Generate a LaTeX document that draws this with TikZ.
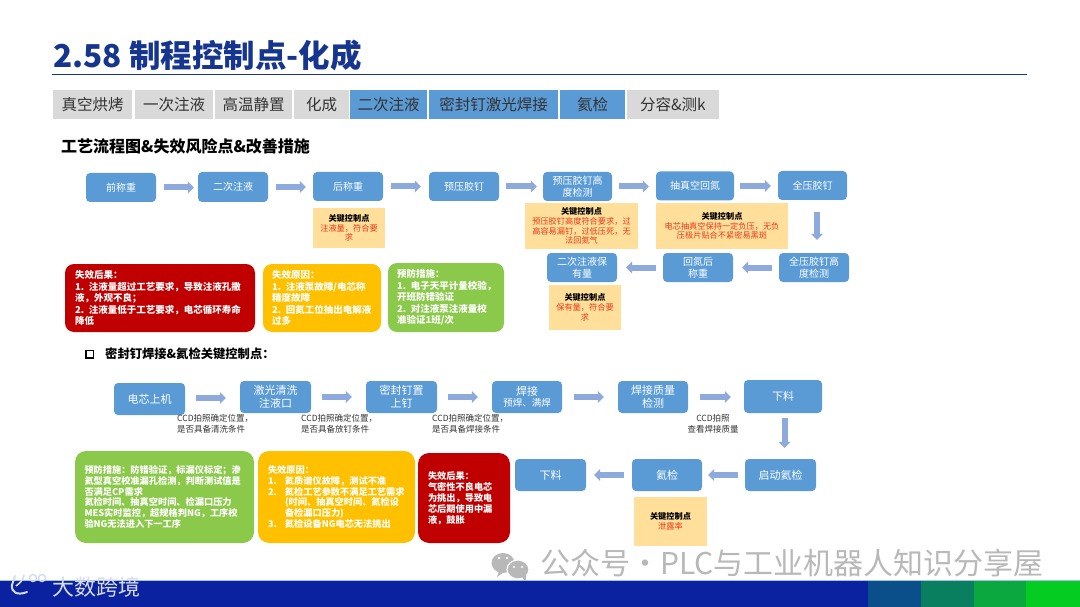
\documentclass[tikz,border=0pt]{standalone}
\usepackage{fontspec}
\setmainfont{Noto Sans CJK SC}
\usetikzlibrary{arrows.meta}
\definecolor{stepblue}{HTML}{5B9BD5}
\definecolor{tabgray}{HTML}{D9D9D9}
\definecolor{flowcol}{HTML}{8EA9DB}
\definecolor{keyfill}{HTML}{FFDF9A}
\definecolor{keyred}{HTML}{E8381A}
\definecolor{failred}{HTML}{C00000}
\definecolor{failorange}{HTML}{FFC000}
\definecolor{failgreen}{HTML}{8BC94A}
\definecolor{titleblue}{HTML}{16358F}
\definecolor{wmgray}{HTML}{B8B8B8}
\definecolor{bandA}{HTML}{0A22A0}
\definecolor{bandB}{HTML}{0B4F8A}
\definecolor{bandC}{HTML}{0A7F5F}
\definecolor{bandD}{HTML}{0AA83E}
\definecolor{bandE}{HTML}{05CC20}
\definecolor{logogray}{HTML}{D5DBE8}
\newcommand{\fsz}[2]{\fontsize{#1}{#2}\selectfont}
\newcommand{\numitem}[1]{\makebox[17pt][l]{#1}}
\newcommand{\zc}{\char"FF0C\relax}
\newcommand{\zk}{\char"FF1A\relax}
\newcommand{\zf}{\char"FF1B\relax}
\tikzset{
  stepbox/.style={fill=stepblue,rounded corners=4pt,text=white,align=center,inner sep=0pt,font=\fsz{10}{12}},
  stepboxb/.style={stepbox,font=\fsz{11}{12.7}},
  tabbox/.style={fill=tabgray,inner sep=0pt,minimum height=29pt,text=black!80,font=\fsz{15.5}{18}},
  tabon/.style={tabbox,fill=stepblue},
  keybox/.style={fill=keyfill,inner sep=0pt,align=center,font=\fsz{8.2}{9.7},text=keyred},
  failbox/.style={rounded corners=9pt,inner sep=0pt,text=white,align=left,font=\bfseries\fsz{9.5}{11.4}},
  failboxb/.style={failbox,rounded corners=11pt,font=\bfseries\fsz{9.2}{10.9}},
  flow/.style={draw=flowcol,line width=6pt,-{Triangle[length=6pt,width=12pt]}},
  ccd/.style={inner sep=0pt,align=left,font=\fsz{8.5}{10.5},text=black!80,anchor=north west},
}
\newcommand{\keyhead}{\textcolor{black}{\bfseries 关键控制点}\\}
\begin{document}
\begin{tikzpicture}[x=1pt,y=-1pt]
\useasboundingbox (0,0) rectangle (1080,607);
% title
\node[anchor=west,inner sep=0pt,text=titleblue,font=\bfseries\fsz{31.5}{34}] (title) at (53,55) {2.58 制程控制点-化成};
\coordinate (ruleL) at (52,75); \coordinate (ruleR) at (1027,75);
\draw[titleblue,line width=1pt] (ruleL) -- (ruleR);
% tabs
\node[tabbox,minimum width=79pt] (t1) at (92.5,104.5) {真空烘烤};
\node[tabbox,minimum width=78pt] (t2) at (174,104.5) {一次注液};
\node[tabbox,minimum width=77pt] (t3) at (253.5,104.5) {高温静置};
\node[tabbox,minimum width=55pt] (t4) at (321.5,104.5) {化成};
\node[tabon,minimum width=77pt] (t5) at (388.5,104.5) {二次注液};
\node[tabon,minimum width=129pt] (t6) at (493.5,104.5) {密封钉激光焊接};
\node[tabon,minimum width=65pt] (t7) at (592.5,104.5) {氦检};
\node[tabbox,minimum width=92pt] (t8) at (673,104.5) {分容\&测k};
\node[anchor=west,inner sep=0pt,font=\bfseries\fsz{16}{18}] (head1) at (61,146) {工艺流程图\&失效风险点\&改善措施};
% row 1
\node[stepbox,minimum width=70pt,minimum height=29pt] (a1) at (121,187.5) {前称重};
\node[stepbox,minimum width=70pt,minimum height=30pt] (a2) at (233,187) {二次注液};
\node[stepbox,minimum width=70pt,minimum height=29pt] (a3) at (348,186.5) {后称重};
\node[stepbox,minimum width=70pt,minimum height=29pt] (a4) at (464,186.5) {预压胶钉};
\node[stepbox,minimum width=69pt,minimum height=29pt] (a5) at (577.5,186.5) {预压胶钉高\\度检测};
\node[stepbox,minimum width=78pt,minimum height=29pt] (a6) at (695,186) {抽真空回氮};
\node[stepbox,minimum width=69pt,minimum height=29pt] (a7) at (812.5,185.5) {全压胶钉};
\node[stepbox,minimum width=70pt,minimum height=29pt] (a8) at (814,267.5) {全压胶钉高\\度检测};
\node[stepbox,minimum width=70pt,minimum height=29pt] (a9) at (698,267.5) {回氮后\\称重};
\node[stepbox,minimum width=70pt,minimum height=29pt] (a10) at (582,267.5) {二次注液保\\有量};
\draw[flow,shorten <=8pt,shorten >=4pt] (a1.east) -- (a1.east -| a2.west);
\draw[flow,shorten <=8pt,shorten >=7pt] (a2.east) -- (a2.east -| a3.west);
\draw[flow,shorten <=8pt,shorten >=8pt] (a3.east) -- (a3.east -| a4.west);
\draw[flow,shorten <=7pt,shorten >=6pt] (a4.east) -- (a4.east -| a5.west);
\draw[flow,shorten <=7pt,shorten >=7pt] (a5.east) -- (a5.east -| a6.west);
\draw[flow,shorten <=6pt,shorten >=7pt] (a6.east) -- (a6.east -| a7.west);
\draw[flow,shorten <=12pt,shorten >=13pt] (a7.south -| 817,0) -- (a8.north -| 817,0);
\draw[flow,shorten <=7pt,shorten >=9pt] (a8.west) -- (a8.west -| a9.east);
\draw[flow,shorten <=7pt,shorten >=9pt] (a9.west) -- (a9.west -| a10.east);
% key boxes row 1
\node[keybox,minimum width=72pt,minimum height=40pt] (k1) at (349,228) {\keyhead 注液量\zc 符合要\\求};
\node[keybox,minimum width=113pt,minimum height=46pt] (k2) at (581.5,226) {\keyhead 预压胶钉高度符合要求\zc 过\\高容易漏钉\zc 过低压死\zc 无\\法回氮气};
\node[keybox,minimum width=132pt,minimum height=46pt] (k3) at (722,226) {\keyhead 电芯抽真空保持一定负压\zc 无负\\压极片贴合不紧密易黑斑};
\node[keybox,minimum width=72pt,minimum height=45pt] (k4) at (585,307.5) {\keyhead 保有量\zc 符合要\\求};
% failure boxes row 1
\node[failbox,fill=failred,minimum width=190pt,minimum height=68pt,text width=170pt] (f1) at (160,298) {失效后果\zk\\1. 注液量超过工艺要求\zc 导致注液孔撒\\液\zc 外观不良\zf\\2. 注液量低于工艺要求\zc 电芯循环寿命\\降低};
\node[failbox,fill=failorange,minimum width=118pt,minimum height=68pt,text width=100pt] (f2) at (322,298) {失效原因\zk\\1. 注液泵故障/电芯称\\精度故障\\2. 回氦工位抽出电解液\\过多};
\node[failbox,fill=failgreen,minimum width=116pt,minimum height=69pt,text width=98pt] (f3) at (446,297.5) {预防措施\zk\\\mbox{1. 电子天平计量校验\zc}\\开班防错验证\\\mbox{2. 对注液泵注液量校}\\准验证1班/次};
% section 2 heading
\node[draw=black,line width=1.5pt,minimum size=7.5pt,inner sep=0pt] (chk) at (89.5,354) {};
\node[anchor=west,inner sep=0pt,font=\bfseries\fsz{12.3}{14}] (head2) at (105,354) {密封钉焊接\&氦检关键控制点\zk};
% row 3
\node[stepboxb,minimum width=71pt,minimum height=32pt] (b1) at (149.5,399) {电芯上机};
\node[stepboxb,minimum width=71pt,minimum height=32pt] (b2) at (275.5,397) {激光清洗\\注液口};
\node[stepboxb,minimum width=71pt,minimum height=32pt] (b3) at (401.5,397) {密封钉置\\上钉};
\node[stepboxb,minimum width=70pt,minimum height=32pt] (b4) at (527,397) {焊接\\[-1.5pt]{\fsz{9.5}{10}预焊、满焊}};
\node[stepboxb,minimum width=70pt,minimum height=32pt] (b5) at (653,397) {焊接质量\\检测};
\node[stepboxb,minimum width=78pt,minimum height=33pt] (b6) at (783,396.5) {下料};
\node[stepboxb,minimum width=71pt,minimum height=32pt] (b7) at (780.5,475) {启动氦检};
\node[stepboxb,minimum width=70pt,minimum height=32pt] (b8) at (667,475) {氦检};
\node[stepboxb,minimum width=71pt,minimum height=32pt] (b9) at (550.5,475) {下料};
\draw[flow,shorten <=11pt,shorten >=14pt] (b1.east |- 0,398) -- (b2.west |- 0,398);
\draw[flow,shorten <=11pt,shorten >=14pt] (b2.east) -- (b2.east -| b3.west);
\draw[flow,shorten <=11pt,shorten >=14pt] (b3.east) -- (b3.east -| b4.west);
\draw[flow,shorten <=12pt,shorten >=14pt] (b4.east) -- (b4.east -| b5.west);
\draw[flow,shorten <=12pt,shorten >=13pt] (b5.east) -- (b5.east -| b6.west);
\draw[flow,shorten <=5pt,shorten >=11pt] (b6.south -| 784.5,0) -- (b7.north -| 784.5,0);
\draw[flow,shorten <=7pt,shorten >=6pt] (b7.west) -- (b7.west -| b8.east);
\draw[flow,shorten <=8pt,shorten >=8pt] (b8.west) -- (b8.west -| b9.east);
% ccd labels
\node[ccd] (c1) at (177,414.5) {CCD拍照确定位置\zc\\是否具备清洗条件};
\node[ccd] (c2) at (301,414.5) {CCD拍照确定位置\zc\\是否具备放钉条件};
\node[ccd] (c3) at (432,414.5) {CCD拍照确定位置\zc\\是否具备焊接条件};
\node[ccd,anchor=north,align=center] (c4) at (713,414.5) {CCD拍照\\查看焊接质量};
% key box row 4
\node[keybox,minimum width=73pt,minimum height=49pt] (k5) at (670.5,521.5) {\keyhead 泄露率};
% failure boxes row 4
\node[failboxb,fill=failgreen,minimum width=179pt,minimum height=92pt,text width=160pt] (g1) at (164.5,497) {预防措施\zk 防错验证\zc 标漏仪标定\zf 渗\\氦型真空校准漏孔检测\zc 判断测试值是\\否满足CP需求\\氦检时间、抽真空时间、检漏口压力\\MES实时监控\zc 超规格判NG\zc 工序校\\验NG无法进入下一工序};
\node[failboxb,fill=failorange,minimum width=157pt,minimum height=92pt,text width=137pt] (g2) at (336.5,497) {失效原因\zk\\\numitem{1.}氦质谱仪故障\zc 测试不准\\\numitem{2.}氦检工艺参数不满足工艺需求\\\numitem{}(时间、抽真空时间、氦检设\\\numitem{}备检漏口压力)\\\numitem{3.}氦检设备NG电芯无法挑出};
\node[failboxb,fill=failred,minimum width=92pt,minimum height=90pt,text width=72pt] (g3) at (464,498) {失效后果\zk\\气密性不良电芯\\为挑出\zc 导致电\\芯后期使用中漏\\液\zc 鼓胀};
% watermark
\fill[wmgray] (503,563) ellipse (11.5pt and 10pt);
\fill[wmgray] (499,571) -- (497,577) -- (504,572) -- cycle;
\draw[white,line width=1.2pt,fill=wmgray] (518,569.5) ellipse (11pt and 9.5pt);
\fill[wmgray] (522,577) -- (526,582) -- (526,575) -- cycle;
\fill[white] (499,558) circle (1.3pt) (507,558) circle (1.3pt) (514,567) circle (1.2pt) (522,567) circle (1.2pt);
\node[anchor=west,inner sep=0pt,text=wmgray,font=\fsz{30}{32}] (wm) at (540,563) {公众号·PLC与工业机器人知识分享屋};
% footer
\fill[stepblue!60] (0,580) rectangle (1080,581.5);
\fill[bandA] (0,581) rectangle (868,607);
\fill[bandB] (868,581) rectangle (921,607);
\fill[bandC] (921,581) rectangle (974,607);
\fill[bandD] (974,581) rectangle (1026,607);
\fill[bandE] (1026,581) rectangle (1080,607);
\draw[logogray,line width=2pt,line cap=round] (15,576) -- (12,585) .. controls (11,592) and (17,596) .. (27,592);
\draw[logogray,line width=1.6pt] (16,586) .. controls (20,583) and (23,580) .. (24,575);
\draw[logogray,line width=1.4pt] (33,578) circle (3.5pt) (42,578) circle (3.5pt);
\node[anchor=west,inner sep=0pt,text=logogray,font=\fsz{22}{24}] (brand) at (52,587) {大数跨境};
\end{tikzpicture}
\end{document}
